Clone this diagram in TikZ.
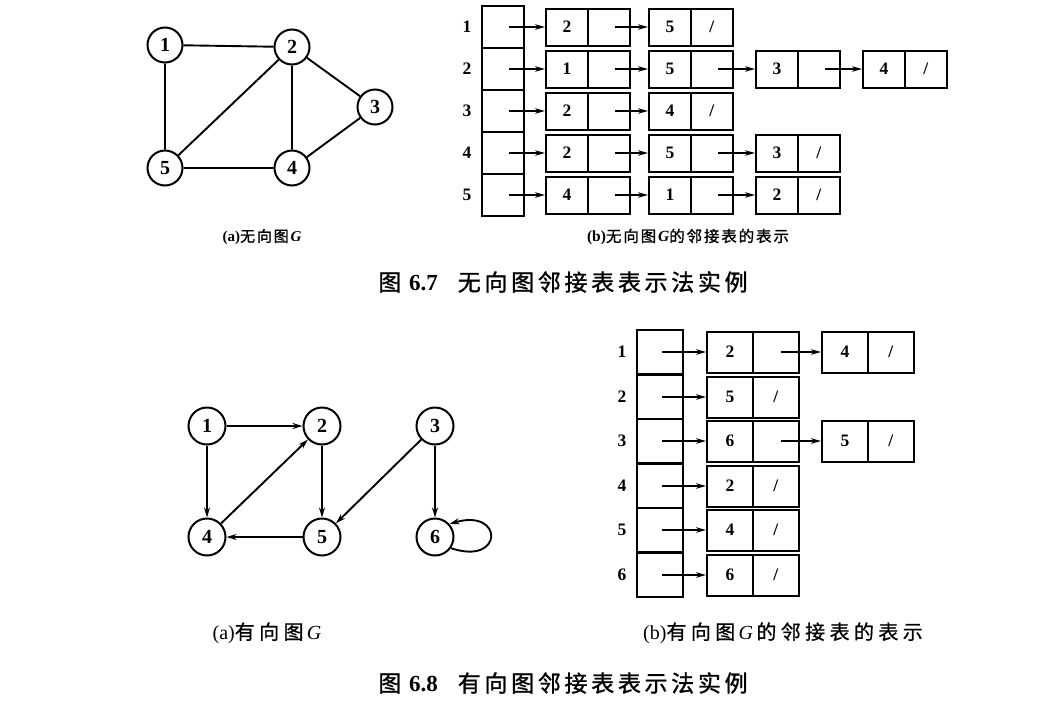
\documentclass[tikz,border=0pt]{standalone}
\usepackage{fontspec}
\setmainfont{Liberation Serif}
\newfontfamily\cjkm[LetterSpace=16,FakeBold=1.2]{Noto Sans CJK SC}
\newfontfamily\cjkb[LetterSpace=22,FakeBold=0.8]{Noto Sans CJK SC}
\newfontfamily\cjks[LetterSpace=12,FakeBold=1.2]{Noto Sans CJK SC}
\usetikzlibrary{arrows.meta}
\newcommand\nul{\textbf{/}}
\begin{document}
\begin{tikzpicture}[x=1pt,y=-1pt,
  vtx/.style={circle,draw,line width=2pt,minimum size=35pt,inner sep=0pt,font=\fontsize{20}{20}\selectfont\bfseries},
  edge/.style={line width=1.9pt},
  darr/.style={line width=1.9pt,-{Stealth[length=10pt,width=6pt]}},
  arr/.style={line width=1.8pt,-{Stealth[length=10pt,width=5.5pt]}},
  lbl/.style={font=\fontsize{17.5}{17.5}\selectfont\bfseries},
  headA/.style={draw,line width=2pt,minimum width=42pt,minimum height=42pt,inner sep=0pt},
  cellA/.style={draw,line width=2pt,minimum width=42pt,minimum height=37pt,inner sep=0pt,font=\fontsize{17.5}{17.5}\selectfont\bfseries},
  headB/.style={draw,line width=2pt,minimum width=46pt,minimum height=44.5pt,inner sep=0pt},
  cellB/.style={draw,line width=2pt,minimum width=46pt,minimum height=41pt,inner sep=0pt,font=\fontsize{17.5}{17.5}\selectfont\bfseries},
  captext/.style={inner sep=0pt,anchor=center}
]
\useasboundingbox (0,0) rectangle (1050,726);

% ---------- Fig 6.7 (a) undirected graph ----------
\node[vtx] (a1) at (165,45) {1};
\node[vtx] (a2) at (292,47) {2};
\node[vtx] (a3) at (375,107) {3};
\node[vtx] (a4) at (292,168) {4};
\node[vtx] (a5) at (165,168) {5};
\draw[edge] (a1)--(a2) (a1)--(a5) (a2)--(a5) (a2)--(a4) (a2)--(a3) (a3)--(a4) (a5)--(a4);

% ---------- Fig 6.7 (b) adjacency lists ----------
\foreach \r/\y in {1/27,2/69,3/111,4/153,5/195} {
  \node[lbl] (la\r) at (467,\y) {\r};
  \node[headA] (ha\r) at (503,\y) {};
}
% row 1
\node[cellA] (t11) at (567,27) {2}; \node[cellA] (t11p) at (609,27) {};
\node[cellA] (t12) at (670,27) {5}; \node[cellA] (t12p) at (712,27) {\nul};
% row 2
\node[cellA] (t21) at (567,69) {1}; \node[cellA] (t21p) at (609,69) {};
\node[cellA] (t22) at (670,69) {5}; \node[cellA] (t22p) at (712,69) {};
\node[cellA] (t23) at (777,69) {3}; \node[cellA] (t23p) at (819,69) {};
\node[cellA] (t24) at (884,69) {4}; \node[cellA] (t24p) at (926,69) {\nul};
% row 3
\node[cellA] (t31) at (567,111) {2}; \node[cellA] (t31p) at (609,111) {};
\node[cellA] (t32) at (670,111) {4}; \node[cellA] (t32p) at (712,111) {\nul};
% row 4
\node[cellA] (t41) at (567,153) {2}; \node[cellA] (t41p) at (609,153) {};
\node[cellA] (t42) at (670,153) {5}; \node[cellA] (t42p) at (712,153) {};
\node[cellA] (t43) at (777,153) {3}; \node[cellA] (t43p) at (819,153) {\nul};
% row 5
\node[cellA] (t51) at (567,195) {4}; \node[cellA] (t51p) at (609,195) {};
\node[cellA] (t52) at (670,195) {1}; \node[cellA] (t52p) at (712,195) {};
\node[cellA] (t53) at (777,195) {2}; \node[cellA] (t53p) at (819,195) {\nul};

\foreach \r in {1,...,5} { \draw[arr] ([xshift=6pt]ha\r.center) -- (t\r1.west); }
\draw[arr] ([xshift=6pt]t11p.center) -- (t12.west);
\draw[arr] ([xshift=6pt]t21p.center) -- (t22.west);
\draw[arr] ([xshift=6pt]t22p.center) -- (t23.west);
\draw[arr] ([xshift=6pt]t23p.center) -- (t24.west);
\draw[arr] ([xshift=6pt]t31p.center) -- (t32.west);
\draw[arr] ([xshift=6pt]t41p.center) -- (t42.west);
\draw[arr] ([xshift=6pt]t42p.center) -- (t43.west);
\draw[arr] ([xshift=6pt]t51p.center) -- (t52.west);
\draw[arr] ([xshift=6pt]t52p.center) -- (t53.west);

% captions fig 6.7
\node[captext,font=\fontsize{15}{15}\selectfont] (capa1) at (262,237) {\textbf{(a)}{\cjks 无向图}\textbf{\textit{G}}};
\node[captext,font=\fontsize{15.5}{15.5}\selectfont] (capb1) at (688,237) {\textbf{(b)}{\cjks 无向图}\textbf{\textit{G}}{\cjks 的邻接表的表示}};
\node[captext,font=\fontsize{23}{23}\selectfont] (cap1) at (563,282) {{\cjkm 图}\hspace{4pt}\textbf{6.7}\hspace{20pt}{\cjkm 无向图邻接表表示法实例}};

% ---------- Fig 6.8 (a) directed graph ----------
\node[vtx,minimum size=37pt] (b1) at (207,426) {1};
\node[vtx,minimum size=37pt] (b2) at (322,426) {2};
\node[vtx,minimum size=37pt] (b3) at (435,426) {3};
\node[vtx,minimum size=37pt] (b4) at (207,537) {4};
\node[vtx,minimum size=37pt] (b5) at (322,537) {5};
\node[vtx,minimum size=37pt] (b6) at (435,537) {6};
\draw[darr] (b1)--(b2);
\draw[darr] (b1)--(b4);
\draw[darr] (b4)--(b2);
\draw[darr] (b2)--(b5);
\draw[darr] (b3)--(b5);
\draw[darr] (b5)--(b4);
\draw[darr] (b3)--(b6);
\draw[darr] (b6.-35) .. controls (504,566) and (504,508) .. (b6.42);

% ---------- Fig 6.8 (b) adjacency lists ----------
\foreach \r/\y in {1/352,2/397,3/441,4/486,5/530,6/575} {
  \node[lbl] (lb\r) at (622,\y) {\r};
  \node[headB] (hb\r) at (660,\y) {};
}
\node[cellB] (s11) at (730,352) {2}; \node[cellB] (s11p) at (776,352) {};
\node[cellB] (s12) at (845,352) {4}; \node[cellB] (s12p) at (891,352) {\nul};
\node[cellB] (s21) at (730,397) {5}; \node[cellB] (s21p) at (776,397) {\nul};
\node[cellB] (s31) at (730,441) {6}; \node[cellB] (s31p) at (776,441) {};
\node[cellB] (s32) at (845,441) {5}; \node[cellB] (s32p) at (891,441) {\nul};
\node[cellB] (s41) at (730,486) {2}; \node[cellB] (s41p) at (776,486) {\nul};
\node[cellB] (s51) at (730,530) {4}; \node[cellB] (s51p) at (776,530) {\nul};
\node[cellB] (s61) at (730,575) {6}; \node[cellB] (s61p) at (776,575) {\nul};

\foreach \r in {1,...,6} { \draw[arr] ([xshift=2pt]hb\r.center) -- (s\r1.west); }
\draw[arr] ([xshift=5pt]s11p.center) -- (s12.west);
\draw[arr] ([xshift=5pt]s31p.center) -- (s32.west);

% captions fig 6.8
\node[captext,font=\fontsize{20}{20}\selectfont] (capa2) at (267,633) {(a){\cjkb 有向图}\,\textit{G}};
\node[captext,font=\fontsize{20}{20}\selectfont] (capb2) at (783,633) {(b){\cjkb 有向图}\,\textit{G}\,{\cjkb 的邻接表的表示}};
\node[captext,font=\fontsize{23}{23}\selectfont] (cap2) at (563,683) {{\cjkm 图}\hspace{4pt}\textbf{6.8}\hspace{20pt}{\cjkm 有向图邻接表表示法实例}};
\end{tikzpicture}
\end{document}
